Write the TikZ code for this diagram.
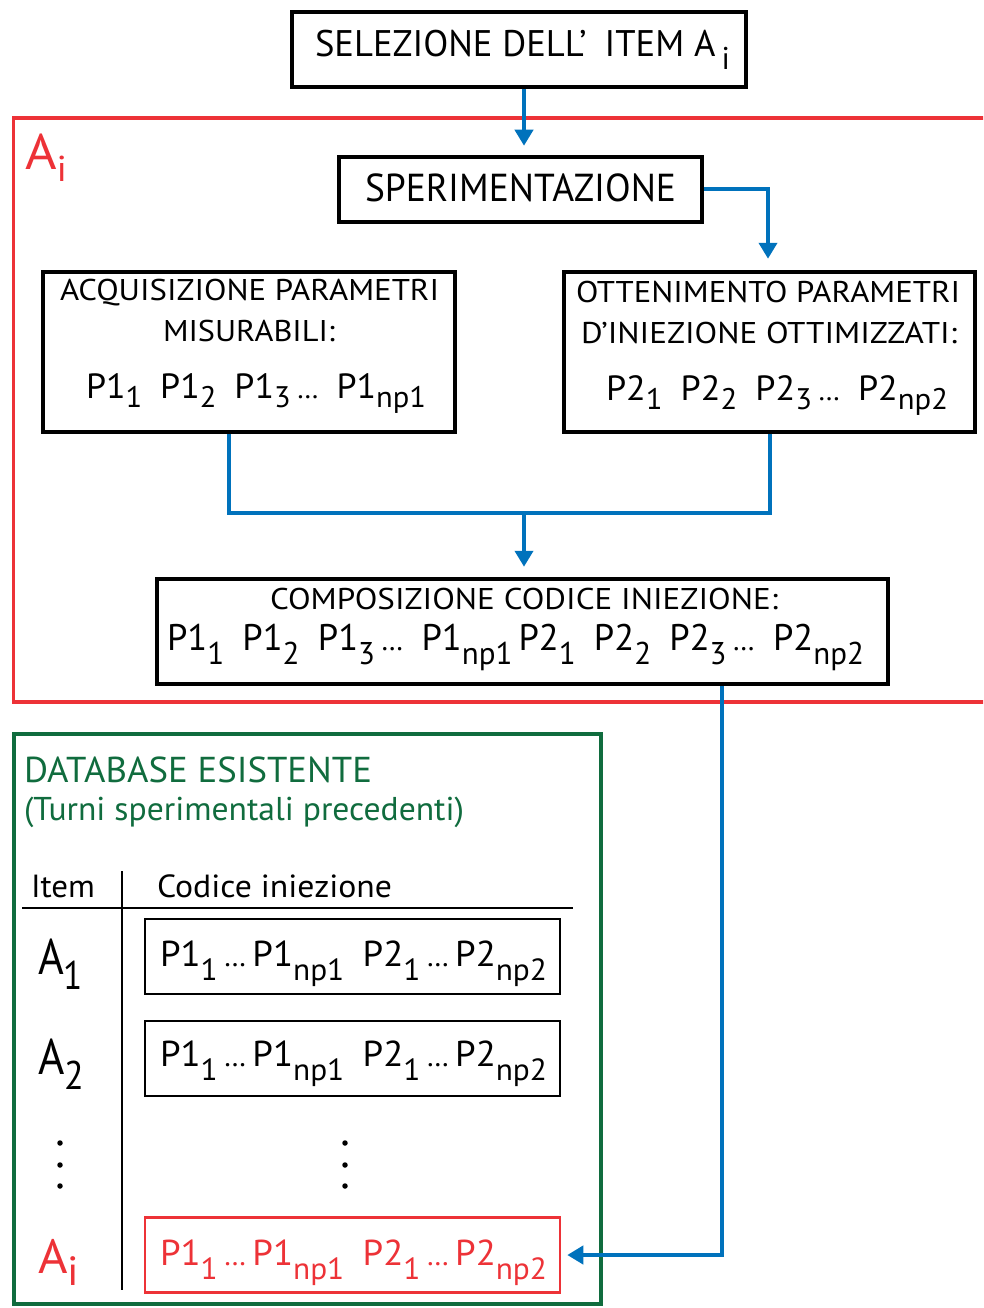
\documentclass[tikz,border=0pt]{standalone}
\usepackage{fontspec}
\setmainfont{PT Sans}[Numbers=Lining]
\usetikzlibrary{arrows.meta,calc}
\definecolor{myblue}{RGB}{0,114,188}
\definecolor{myred}{RGB}{237,50,55}
\definecolor{mygreen}{RGB}{16,108,62}
\newcommand\tx[3]{\resizebox{#1pt}{\height}{\fontsize{#2pt}{#2pt}\selectfont #3}}
% \subx[drop]{scale}{text}
\newcommand\subx[3][0.3em]{\raisebox{-#1}{\scalebox{#2}{#3}}}
\newcommand\pa[1]{\subx[0.28em]{0.85}{#1}}
\newcommand\pb[1]{\subx[0.4em]{0.85}{#1}}
\newcommand\dd{{\scalebox{0.8}{…}}}
\begin{document}
\begin{tikzpicture}[x=1pt,y=-1pt,
  txt/.style={anchor=base west, inner sep=0pt, outer sep=0pt},
  bigbox/.style={draw=black, line width=4.5pt, inner sep=0pt},
  rowbox/.style={draw=black, line width=2.5pt, inner sep=0pt, minimum width=415pt, minimum height=75pt},
  bl/.style={myblue, line width=4pt},
  arr/.style={bl, -{Triangle[width=18pt,length=16pt]}},
  dotm/.style={circle, fill=black, inner sep=0pt, minimum size=5.5pt}
]
\clip (0,0) rectangle (983,1308);
\fill[white] (0,0) rectangle (983,1308);

% frames
\draw[myred, line width=3.5pt] (13.5,118) rectangle (1000,702);
\draw[mygreen, line width=4pt] (14,734) rectangle (601,1304);

% boxes
\node[bigbox, minimum width=454pt, minimum height=75pt] (top) at (519,49.5) {};
\node[bigbox, minimum width=363pt, minimum height=65pt] (sper) at (520.5,189.5) {};
\node[bigbox, minimum width=412pt, minimum height=160pt] (left) at (249,352) {};
\node[bigbox, minimum width=411pt, minimum height=160pt] (right) at (769.5,352) {};
\node[bigbox, minimum width=731pt, minimum height=105pt] (comp) at (522.5,631.5) {};
\node[rowbox] (row1) at (352.5,956.5) {};
\node[rowbox] (row2) at (352.5,1058.5) {};
\node[rowbox, draw=myred] (rowi) at (352.5,1255) {};

% texts
\node[txt] (t1) at (315,57) {\tx{415}{37}{SELEZIONE DELL’\enspace ITEM A\,\subx[0.35em]{0.85}{i}}};
\node[txt] (t2) at (365,202) {\tx{311}{39}{SPERIMENTAZIONE}};
\node[txt, text=myred] (ai) at (25,169) {\tx{42}{50}{A\subx[0.25em]{0.72}{i}}};
\node[txt] (l1) at (60,300) {\tx{379}{30}{ACQUISIZIONE PARAMETRI}};
\node[txt] (l2) at (163,341) {\tx{172}{30}{MISURABILI:}};
\node[txt] (l3) at (86,398) {\tx{340}{35}{P1\pa{1}\enspace P1\pa{2}\enspace P1\pa{3}\,\dd\enspace P1\pa{np1}}};
\node[txt] (r1) at (576,302) {\tx{384}{30}{OTTENIMENTO PARAMETRI}};
\node[txt] (r2) at (581,343) {\tx{376}{30}{D’INIEZIONE OTTIMIZZATI:}};
\node[txt] (r3) at (606,400) {\tx{342}{35}{P2\pa{1}\enspace P2\pa{2}\enspace P2\pa{3}\,\dd\enspace P2\pa{np2}}};
\node[txt] (c1) at (270,609) {\tx{508}{30}{COMPOSIZIONE CODICE INIEZIONE:}};
\node[txt] (c2) at (167,650) {\tx{697}{37}{P1\pb{1}\enspace P1\pb{2}\enspace P1\pb{3}\,\dd\enspace P1\pb{np1}\,P2\pb{1}\enspace P2\pb{2}\enspace P2\pb{3}\,\dd\enspace P2\pb{np2}}};

\node[txt, text=mygreen] (db1) at (24,782) {\tx{348}{36}{DATABASE ESISTENTE}};
\node[txt, text=mygreen] (db2) at (24,820) {\tx{440}{33}{(Turni sperimentali precedenti)}};
\node[txt] (hitem) at (31,897) {\tx{64}{32}{Item}};
\node[txt] (hcod) at (157,897) {\tx{235}{32}{Codice iniezione}};
\node[txt] (a1) at (38,974) {\tx{45}{50}{A\subx[0.3em]{0.8}{1}}};
\node[txt] (a2) at (38,1074) {\tx{46}{50}{A\subx[0.3em]{0.8}{2}}};
\node[txt, text=myred] (aii) at (38,1273) {\tx{41}{48}{A\subx[0.25em]{0.85}{i}}};
\node[txt] (p1) at (160,966) {\tx{387}{36}{P1\pb{1}\,\dd\,P1\pb{np1}\enspace P2\pb{1}\,\dd\,P2\pb{np2}}};
\node[txt] (p2) at (160,1066) {\tx{387}{36}{P1\pb{1}\,\dd\,P1\pb{np1}\enspace P2\pb{1}\,\dd\,P2\pb{np2}}};
\node[txt, text=myred] (pi) at (160,1265) {\tx{387}{36}{P1\pb{1}\,\dd\,P1\pb{np1}\enspace P2\pb{1}\,\dd\,P2\pb{np2}}};

% table rules and dots
\draw[black, line width=2.5pt] (22,908) -- (573,908);
\draw[black, line width=2.5pt] (122,871) -- (122,1290);
\foreach \yy [count=\k] in {1143,1165,1186} {
  \node[dotm] (dl\k) at (60,\yy) {};
  \node[dotm] (dr\k) at (345,\yy) {};
}

% connectors
\coordinate (ca) at (524,0);
\coordinate (cl) at (229,513);
\coordinate (jn) at (524,513);
\coordinate (cc) at (722,0);
\draw[arr, shorten >=9pt] (top.south -| ca) -- (sper.north -| ca);
\draw[arr, shorten >=11pt] (sper.east) -| ($(right.north)+(-1.5,0)$);
\draw[bl, line join=miter] (left.south -| cl) -- (cl) -- (cl -| right.south) -- (right.south);
\draw[arr, shorten >=10pt] (jn) -- (comp.north -| jn);
\draw[arr, shorten >=6pt] (comp.south -| cc) |- (rowi.east);
\end{tikzpicture}
\end{document}
